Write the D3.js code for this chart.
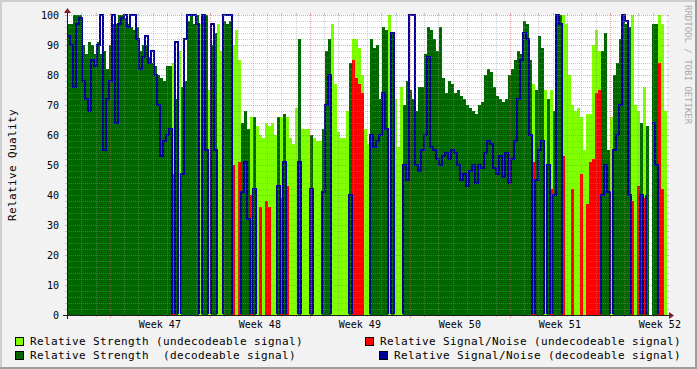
<!DOCTYPE html>
<html>
<head>
<meta charset="utf-8">
<script src="https://cdn.jsdelivr.net/npm/d3@7"></script>
<style>
  body { margin: 0; background: #f2f2f2; }
  text { font-family: "DejaVu Sans Mono", monospace; white-space: pre; }
</style>
</head>
<body>
<div id="chart"></div>
<script>
// one value per 5 hour step, Friday of week 46 to Friday of week 52
const strength = [
  97, 97, 100, 100, 100, 90, 87, 91, 90, 87, 91, 87, 88, 82, 90, 97, 97, 100, 100, 99,
  97, 96, 95, 96, 88, 90, 90, 86, 84, 83, 80, 79, 78, 83, 83, 84, 72, 88, 76, 78,
  98, 100, 97, 100, 97, 100, 100, 75, 90, 94, 97, 88, 98, 97, 98, 90, 95, 85, 64, 68,
  62, 66, 66, 63, 60, 59, 64, 63, 64, 60, 66, 66, 67, 66, 59, 57, 69, 92, 62, 62,
  62, 60, 59, 58, 58, 62, 88, 92, 97, 77, 61, 59, 59, 68, 84, 92, 92, 89, 80, 62,
  57, 92, 89, 90, 72, 96, 95, 100, 94, 72, 56, 76, 70, 78, 75, 72, 68, 76, 76, 87,
  96, 95, 92, 88, 96, 79, 74, 78, 77, 74, 75, 73, 72, 70, 69, 68, 67, 70, 71, 80,
  82, 81, 76, 73, 72, 71, 72, 80, 82, 85, 88, 87, 98, 97, 85, 77, 75, 93, 89, 75,
  72, 75, 68, 100, 100, 100, 97, 80, 70, 68, 69, 66, 55, 67, 67, 90, 95, 88, 88, 94,
  55, 66, 80, 84, 92, 100, 97, 96, 100, 70, 68, 64, 76, 63, null, 97, 97, 100, 97, 68
];
// 1 = decodeable signal, 0 = undecodeable
const decodeable = [
  1, 1, 1, 1, 1, 1, 1, 1, 1, 1, 1, 1, 1, 1, 1, 1, 1, 1, 1, 1,
  1, 1, 1, 1, 1, 1, 1, 1, 1, 1, 1, 1, 1, 1, 1, 0, 1, 0, 1, 1,
  1, 1, 1, 1, 0, 1, 1, 0, 1, 1, 0, 0, 1, 1, 1, 0, 0, 0, 1, 1,
  1, 0, 1, 0, 0, 0, 0, 0, 0, 0, 1, 0, 1, 0, 0, 0, 0, 1, 0, 0,
  0, 1, 0, 0, 0, 1, 1, 1, 0, 0, 0, 0, 0, 0, 1, 0, 0, 0, 0, 0,
  0, 1, 1, 1, 1, 1, 1, 0, 1, 0, 0, 0, 1, 1, 1, 1, 1, 1, 1, 1,
  1, 1, 1, 1, 1, 1, 1, 1, 1, 1, 1, 1, 1, 1, 1, 1, 1, 1, 1, 1,
  1, 1, 1, 1, 1, 1, 1, 1, 1, 1, 1, 1, 1, 1, 1, 0, 1, 1, 1, 0,
  1, 0, 1, 1, 1, 0, 0, 0, 0, 0, 0, 0, 0, 0, 0, 0, 0, 0, 1, 1,
  1, 0, 1, 1, 1, 1, 1, 1, 0, 0, 0, 1, 0, 1, 0, 1, 1, 0, 0, 0
];
const signalNoise = [
  93, 90, 76, 97, 99, 78, 72, 68, 85, 83, 90, 100, 55, 72, 78, 100, 64, 97, 99, 100,
  96, 100, 100, 92, 82, 86, 93, 84, 88, 80, 70, 53, 58, 60, 62, 47, 91, 0, 47, 92,
  100, 100, 100, 97, 0, 100, 55, 0, 97, 55, 0, 0, 100, 100, 100, 50, 0, 51, 41, 51,
  32, 40, 42, 0, 36, 0, 38, 36, 0, 0, 43, 39, 51, 43, 0, 0, 0, 51, 0, 0,
  0, 42, 0, 0, 0, 41, 70, 80, 0, 0, 0, 0, 0, 0, 40, 85, 79, 77, 74, 0,
  0, 60, 56, 58, 60, 74, 62, 0, 94, 0, 0, 0, 50, 45, 100, 100, 50, 48, 55, 60,
  86, 56, 55, 52, 50, 53, 54, 52, 55, 54, 50, 45, 47, 43, 48, 50, 44, 50, 49, 54,
  58, 57, 49, 47, 53, 46, 54, 44, 52, 58, 72, 85, 94, 92, 60, 51, 45, 55, 58, 0,
  50, 42, 40, 100, 97, 53, 0, 0, 42, 0, 0, 47, 0, 37, 51, 52, 74, 75, 40, 50,
  41, 0, 55, 60, 70, 100, 98, 40, 38, 0, 43, 40, 39, 40, 0, 64, 50, 84, 42, 0
];
const yTicks = [0, 10, 20, 30, 40, 50, 60, 70, 80, 90, 100];
const legendLabels = [
  'Relative Strength (undecodeable signal)',
  'Relative Signal/Noise (undecodeable signal)',
  'Relative Strength  (decodeable signal)',
  'Relative Signal/Noise (decodeable signal)'
];

const W = 697, H = 369;
const plot = {left: 67, top: 15, right: 667, bottom: 315};
const colors = {
  weak: '#80ff00', strong: '#006600', snWeak: '#ff0000', snStrong: '#000099',
  grid: 'rgba(143,143,143,0.45)', mgrid: 'rgba(222,79,79,0.5)',
  axis: '#1f1f1f', arrow: '#801f1f'
};

const tStart = new Date(Date.UTC(2007, 10, 16));
const tEnd = new Date(Date.UTC(2007, 11, 28));
const stepMs = (tEnd - tStart) / strength.length;

const x = d3.scaleUtc().domain([tStart, tEnd]).range([plot.left, plot.right]);
const y = d3.scaleLinear().domain([0, 100]).range([plot.bottom, plot.top]);

const rows = strength.map((s, i) => ({
  t0: new Date(+tStart + i * stepMs),
  t1: new Date(+tStart + (i + 1) * stepMs),
  s: s, d: decodeable[i], n: signalNoise[i]
}));

const svg = d3.select('#chart').append('svg')
    .attr('width', W).attr('height', H);

// background and 3d border
svg.append('rect').attr('width', W).attr('height', H).attr('fill', '#f2f2f2');
svg.append('path').attr('d', `M0,${H} V0 H${W}`).attr('fill', 'none')
    .attr('stroke', '#cfcfcf').attr('stroke-width', 4);
svg.append('path').attr('d', `M0,${H} H${W} V0`).attr('fill', 'none')
    .attr('stroke', '#9e9e9e').attr('stroke-width', 4);
svg.append('rect')
    .attr('x', plot.left).attr('y', plot.top)
    .attr('width', plot.right - plot.left).attr('height', plot.bottom - plot.top)
    .attr('fill', '#ffffff');

const bars = (data, value, color) => {
  svg.append('g').attr('shape-rendering', 'crispEdges')
      .selectAll('rect')
      .data(data)
      .join('rect')
      .attr('x', (d) => x(d.t0))
      .attr('width', (d) => x(d.t1) - x(d.t0))
      .attr('y', (d) => y(value(d)))
      .attr('height', (d) => y(0) - y(value(d)))
      .attr('fill', color);
};

const known = rows.filter((d) => d.s !== null);
bars(known.filter((d) => !d.d), (d) => d.s, colors.weak);
bars(known.filter((d) => d.d), (d) => d.s, colors.strong);
bars(known.filter((d) => !d.d && d.n > 0), (d) => d.n, colors.snWeak);

// signal/noise of decodeable signal, drops to zero otherwise
svg.append('clipPath').attr('id', 'clipLine')
    .append('rect').attr('x', plot.left).attr('y', 0)
    .attr('width', plot.right - plot.left).attr('height', plot.bottom - 1);

const last = rows[rows.length - 1];
const lineData = rows.concat([{t0: tEnd, s: last.s, d: last.d, n: last.n}]);
const snLine = d3.line()
    .defined((d) => d.s !== null)
    .x((d) => x(d.t0))
    .y((d) => y(d.d ? d.n : 0))
    .curve(d3.curveStepAfter);
svg.append('path')
    .datum(lineData)
    .attr('clip-path', 'url(#clipLine)')
    .attr('fill', 'none')
    .attr('stroke', colors.snStrong)
    .attr('stroke-width', 2)
    .attr('d', snLine);

// grid on top of the data
const grid = svg.append('g').attr('shape-rendering', 'crispEdges');
const hLine = (v, color) => {
  const yy = Math.round(y(v)) + 0.5;
  grid.append('line').attr('x1', plot.left - 2).attr('x2', plot.left)
      .attr('y1', yy).attr('y2', yy).attr('stroke', color);
  grid.append('line').attr('x1', plot.right).attr('x2', plot.right + 2)
      .attr('y1', yy).attr('y2', yy).attr('stroke', color);
  grid.append('line').attr('x1', plot.left).attr('x2', plot.right)
      .attr('y1', yy).attr('y2', yy).attr('stroke', color)
      .attr('stroke-dasharray', '1,1');
};
const vLine = (t, color, tick) => {
  const xx = Math.round(x(t)) + 0.5;
  grid.append('line').attr('x1', xx).attr('x2', xx)
      .attr('y1', plot.top - 2).attr('y2', plot.top).attr('stroke', color);
  grid.append('line').attr('x1', xx).attr('x2', xx)
      .attr('y1', plot.bottom).attr('y2', plot.bottom + tick).attr('stroke', color);
  grid.append('line').attr('x1', xx).attr('x2', xx)
      .attr('y1', plot.top).attr('y2', plot.bottom).attr('stroke', color)
      .attr('stroke-dasharray', '1,1');
};

d3.range(2, 100, 2).filter((v) => v % 10 !== 0)
    .forEach((v) => hLine(v, colors.grid));
const mondays = d3.utcMonday.range(tStart, tEnd);
d3.utcDay.range(d3.utcDay.offset(tStart, 1), tEnd)
    .filter((t) => t.getUTCDay() !== 1)
    .forEach((t) => vLine(t, colors.grid, 2));
yTicks.filter((v) => v > 0).forEach((v) => hLine(v, colors.mgrid));
mondays.forEach((t) => vLine(t, colors.mgrid, 3));

// axes with arrows
svg.append('line').attr('x1', plot.left - 4).attr('x2', plot.right + 4)
    .attr('y1', plot.bottom + 0.5).attr('y2', plot.bottom + 0.5)
    .attr('stroke', colors.axis).attr('shape-rendering', 'crispEdges');
svg.append('line').attr('x1', plot.left + 0.5).attr('x2', plot.left + 0.5)
    .attr('y1', plot.bottom + 4).attr('y2', plot.top - 4)
    .attr('stroke', colors.axis).attr('shape-rendering', 'crispEdges');
svg.append('path')
    .attr('d', `M${plot.right + 2},${plot.bottom - 3} L${plot.right + 2},${plot.bottom + 4} L${plot.right + 7},${plot.bottom + 0.5} Z`)
    .attr('fill', colors.arrow);
svg.append('path')
    .attr('d', `M${plot.left - 3},${plot.top - 2} L${plot.left + 4},${plot.top - 2} L${plot.left + 0.5},${plot.top - 7} Z`)
    .attr('fill', colors.arrow);

// tick labels
svg.append('g').selectAll('text')
    .data(yTicks)
    .join('text')
    .attr('x', 59)
    .attr('y', (d) => y(d) + 4)
    .attr('text-anchor', 'end')
    .attr('font-size', 10)
    .text((d) => d);

const weekLabel = d3.utcFormat('%V');
svg.append('g').selectAll('text')
    .data(mondays)
    .join('text')
    .attr('x', (d) => x(new Date(+d + 3.5 * 864e5)))
    .attr('y', 328)
    .attr('text-anchor', 'middle')
    .attr('font-size', 10)
    .text((d) => 'Week ' + weekLabel(d));

svg.append('text')
    .attr('transform', `translate(16, ${(plot.top + plot.bottom) / 2}) rotate(-90)`)
    .attr('text-anchor', 'middle')
    .attr('font-size', 11)
    .attr('letter-spacing', 0.38)
    .text('Relative Quality');

svg.append('text')
    .attr('transform', 'translate(685, 5) rotate(90)')
    .attr('font-size', 9)
    .attr('fill', '#aaaaaa')
    .text('RRDTOOL / TOBI OETIKER');

// legend
const legendColors = [colors.weak, colors.snWeak, colors.strong, colors.snStrong];
const legendPos = [[15, 337], [365, 337], [15, 351], [379, 351]];
const legend = svg.append('g').selectAll('g')
    .data(legendLabels)
    .join('g')
    .attr('transform', (d, i) => `translate(${legendPos[i][0]}, ${legendPos[i][1]})`);
legend.append('rect')
    .attr('x', 0.5).attr('y', 0.5).attr('width', 8).attr('height', 8)
    .attr('fill', (d, i) => legendColors[i])
    .attr('stroke', '#000').attr('shape-rendering', 'crispEdges');
legend.append('text')
    .attr('x', 15).attr('y', 8)
    .attr('font-size', 11)
    .attr('letter-spacing', 0.38)
    .text((d) => d);
</script>
</body>
</html>
